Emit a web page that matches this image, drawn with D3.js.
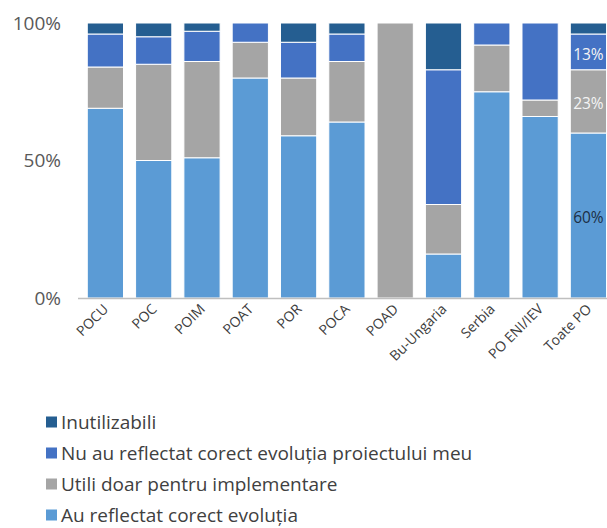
<!DOCTYPE html>
<html>
<head>
<meta charset="utf-8">
<script src="https://cdn.jsdelivr.net/npm/d3@7"></script>
<style>
  html, body { margin: 0; padding: 0; background: #fff; }
  svg { display: block; font-family: "Open Sans", sans-serif; }
</style>
</head>
<body>
<svg id="chart" width="607" height="528"></svg>
<script>
// Programme categories along the x axis
const categories = ["POCU", "POC", "POIM", "POAT", "POR", "POCA", "POAD", "Bu-Ungaria", "Serbia", "PO ENI/IEV", "Toate PO"];

// Share of answers (%) per category, one array per answer
const auReflectat = [69, 50, 51, 80, 59, 64, 0, 16, 75, 66, 60];
const utiliDoar   = [15, 35, 35, 13, 21, 22, 100, 18, 17, 6, 23];
const nuAu        = [12, 10, 11, 7, 13, 10, 0, 49, 8, 28, 13];
const inutil      = [4, 5, 3, 0, 7, 4, 0, 17, 0, 0, 4];

const seriesNames = ["Au reflectat corect evoluția", "Utili doar pentru implementare", "Nu au reflectat corect evoluția proiectului meu", "Inutilizabili"];
const seriesColors = ["#5b9bd5", "#a5a5a5", "#4472c4", "#255e91"];
const yTicks = [0, 50, 100];
// Value labels are shown on the summary bar only
const labelledCategory = "Toate PO";
const labelColors = ["#1c2f45", "#f4f4f4", "#f4f4f4", "#ffffff"];

const seriesValues = [auReflectat, utiliDoar, nuAu, inutil];
const rows = categories.map((c, i) => {
  const r = { category: c };
  seriesNames.forEach((s, k) => r[s] = seriesValues[k][i]);
  return r;
});

const stacked = d3.stack().keys(seriesNames)(rows);

const svg = d3.select("#chart");
const plotTop = 23, plotBottom = 298;

const x = d3.scaleBand()
  .domain(categories)
  .range([75.2, 618.6])
  .padding(0.25);

const y = d3.scaleLinear()
  .domain([0, 100])
  .range([plotBottom, plotTop]);

// Stacked bars
svg.append("g")
  .selectAll("g")
  .data(stacked)
  .join("g")
  .attr("fill", (d, i) => seriesColors[i])
  .selectAll("rect")
  .data(d => d)
  .join("rect")
  .attr("x", d => x(d.data.category))
  .attr("width", x.bandwidth())
  .attr("y", d => y(d[1]))
  .attr("height", d => Math.max(0, y(d[0]) - y(d[1])))
  .attr("stroke", "#ffffff")
  .attr("stroke-width", 1);

// Bottom axis line
svg.append("line")
  .attr("x1", 78).attr("x2", 607)
  .attr("y1", plotBottom + 0.5).attr("y2", plotBottom + 0.5)
  .attr("stroke", "#bfbfbf")
  .attr("stroke-width", 1.5);

// Y axis labels
const yAxis = d3.axisLeft(y)
  .tickValues(yTicks)
  .tickFormat(d => d + "%")
  .tickSize(0)
  .tickPadding(0);
const yg = svg.append("g")
  .attr("transform", "translate(61,0)")
  .call(yAxis);
yg.select(".domain").remove();
yg.selectAll("text")
  .attr("font-size", 19)
  .attr("font-family", "Open Sans, sans-serif")
  .attr("fill", "#595959");

// X axis labels, rotated 45° and ending under each bar
svg.append("g")
  .selectAll("text")
  .data(categories)
  .join("text")
  .attr("transform", d => `translate(${x(d) + x.bandwidth() / 2 - 3},${plotBottom + 5}) rotate(-45)`)
  .attr("text-anchor", "end")
  .attr("dy", "0.7em")
  .attr("font-size", 14)
  .attr("font-family", "Open Sans, sans-serif")
  .attr("fill", "#3d3d3d")
  .text(d => d);

// Value labels on the summary bar
const li = categories.indexOf(labelledCategory);
svg.append("g")
  .selectAll("text")
  .data(stacked.map((s, k) => ({ d: s[li], k })).filter(o => o.d[1] - o.d[0] >= 10))
  .join("text")
  .attr("x", o => x(labelledCategory) + x.bandwidth() / 2)
  .attr("y", o => y((o.d[0] + o.d[1]) / 2) + 2.5)
  .attr("dy", "0.35em")
  .attr("text-anchor", "middle")
  .attr("font-size", 15.5)
  .attr("font-family", "Open Sans, sans-serif")
  .attr("fill", o => labelColors[o.k])
  .text(o => Math.round(o.d[1] - o.d[0]) + "%");

// Legend (top-most series first)
const legendOrder = [3, 2, 1, 0];
const legend = svg.append("g")
  .selectAll("g")
  .data(legendOrder)
  .join("g")
  .attr("transform", (k, i) => `translate(46,${422 + i * 31})`);
legend.append("rect")
  .attr("x", 0).attr("y", -5.5)
  .attr("width", 11).attr("height", 11)
  .attr("fill", k => seriesColors[k]);
legend.append("text")
  .attr("x", 15)
  .attr("dy", "0.35em")
  .attr("font-size", 19)
  .attr("font-family", "Open Sans, sans-serif")
  .attr("fill", "#404040")
  .text(k => seriesNames[k]);
</script>
</body>
</html>
